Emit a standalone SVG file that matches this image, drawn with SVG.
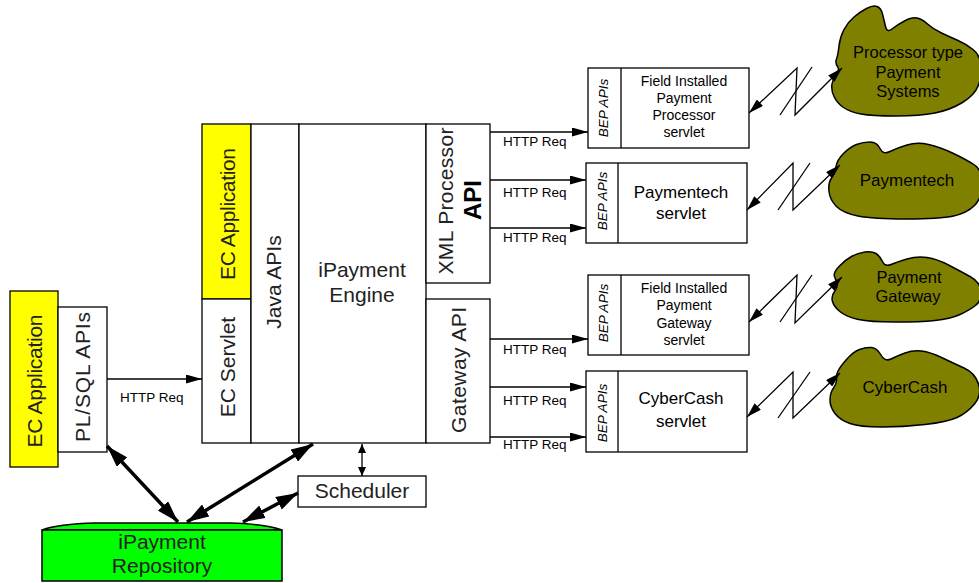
<svg xmlns="http://www.w3.org/2000/svg" width="979" height="583" viewBox="0 0 979 583">
<style>
text{font-family:"Liberation Sans",Arial,sans-serif;fill:#000}
.box{fill:#fff;stroke:#000;stroke-width:1.3}
.yel{fill:#ffff00;stroke:#000;stroke-width:1.3}
.big{font-size:21px;fill:#222}
.sm{font-size:13.5px}
.sv{font-size:14px;text-anchor:middle}
.sv2{font-size:17px;text-anchor:middle}
.bep{font-size:13.5px;font-style:italic;text-anchor:middle;dominant-baseline:central}
.rot{text-anchor:middle;dominant-baseline:central}
.cl{fill:#808000;stroke:#000;stroke-width:1.5}
.ct{font-size:16.5px;text-anchor:middle}
.ln{fill:none;stroke:#000;stroke-width:1.3}
.thick{fill:none;stroke:#000;stroke-width:3.5}
</style>
<defs>
<marker id="a" viewBox="0 0 16 9" refX="16" refY="4.5" markerWidth="16" markerHeight="9" markerUnits="userSpaceOnUse" orient="auto-start-reverse"><path d="M0,0 L16,4.5 L0,9 z"/></marker>
<marker id="z" viewBox="0 0 15 9" refX="15" refY="4.5" markerWidth="15" markerHeight="9" markerUnits="userSpaceOnUse" orient="auto-start-reverse"><path d="M0,0 L15,4.5 L0,9 z"/></marker>
<marker id="t" viewBox="0 0 22 14" refX="22" refY="7" markerWidth="22" markerHeight="14" markerUnits="userSpaceOnUse" orient="auto-start-reverse"><path d="M0,0 L22,7 L0,14 z"/></marker>
<marker id="s" viewBox="0 0 9 8" refX="9" refY="4" markerWidth="9" markerHeight="8" markerUnits="userSpaceOnUse" orient="auto-start-reverse"><path d="M0,0 L9,4 L0,8 z"/></marker>
</defs>

<g id="left-ec-app">
<rect class="yel" x="10" y="291" width="48" height="176"/>
<text class="big rot" transform="translate(34,381) rotate(-90)" textLength="133">EC Application</text>
</g>
<g id="plsql-apis">
<rect class="box" x="58" y="307" width="49" height="145"/>
<text class="big rot" transform="translate(82,377) rotate(-90)" textLength="130">PL/SQL APIs</text>
</g>

<g id="center-ec-app">
<rect class="yel" x="202" y="124" width="49" height="175"/>
<text class="big rot" transform="translate(227,214) rotate(-90)" textLength="132">EC Application</text>
</g>
<g id="ec-servlet">
<rect class="box" x="202" y="299" width="49" height="144"/>
<text class="big rot" transform="translate(227,367) rotate(-90)">EC Servlet</text>
</g>
<g id="java-apis">
<rect class="box" x="251" y="124" width="48" height="319"/>
<text class="big rot" transform="translate(273,282) rotate(-90)">Java APIs</text>
</g>
<g id="engine">
<rect class="box" x="299" y="124" width="127" height="319"/>
<text class="big" x="362" y="277" text-anchor="middle">iPayment</text>
<text class="big" x="362" y="302" text-anchor="middle">Engine</text>
</g>
<g id="xml-api">
<rect class="box" x="426" y="124" width="64" height="159"/>
<text class="big rot" transform="translate(445,201) rotate(-90)" textLength="147">XML Processor</text>
<text class="rot" transform="translate(472,200) rotate(-90)" style="font-size:24px;font-weight:bold">API</text>
</g>
<g id="gateway-api">
<rect class="box" x="426" y="299" width="64" height="144"/>
<text class="big rot" transform="translate(458,370) rotate(-90)" textLength="126">Gateway API</text>
</g>
<g id="scheduler">
<rect class="box" x="298" y="476" width="128" height="31"/>
<text class="big" x="362" y="498" text-anchor="middle">Scheduler</text>
</g>

<g id="repository">
<path d="M42,530 Q58,524 95,523 L230,523 Q266,524 282,530 Z" fill="#00ff00" stroke="#000" stroke-width="1.5"/>
<rect x="42" y="530" width="240" height="51" fill="#00ff00" stroke="#000" stroke-width="1.5"/>
<text class="big" x="162" y="549" text-anchor="middle">iPayment</text>
<text class="big" x="162" y="573" text-anchor="middle">Repository</text>
</g>

<g id="servlet-processor">
<rect class="box" x="588" y="68" width="161" height="80"/>
<line class="ln" x1="621" y1="68" x2="621" y2="148"/>
<text class="bep" transform="translate(603,108) rotate(-90)">BEP APIs</text>
<text class="sv" x="684" y="86">Field Installed</text>
<text class="sv" x="684" y="103">Payment</text>
<text class="sv" x="684" y="120">Processor</text>
<text class="sv" x="684" y="137">servlet</text>
</g>
<g id="servlet-paymentech">
<rect class="box" x="586" y="163" width="161" height="80"/>
<line class="ln" x1="618" y1="163" x2="618" y2="243"/>
<text class="bep" transform="translate(602,201) rotate(-90)">BEP APIs</text>
<text class="sv2" x="681" y="198">Paymentech</text>
<text class="sv2" x="681" y="219">servlet</text>
</g>
<g id="servlet-gateway">
<rect class="box" x="588" y="275" width="161" height="80"/>
<line class="ln" x1="621" y1="275" x2="621" y2="355"/>
<text class="bep" transform="translate(603,313) rotate(-90)">BEP APIs</text>
<text class="sv" x="684" y="293">Field Installed</text>
<text class="sv" x="684" y="310">Payment</text>
<text class="sv" x="684" y="328">Gateway</text>
<text class="sv" x="684" y="345">servlet</text>
</g>
<g id="servlet-cybercash">
<rect class="box" x="586" y="371" width="161" height="81"/>
<line class="ln" x1="618" y1="371" x2="618" y2="452"/>
<text class="bep" transform="translate(602,413) rotate(-90)">BEP APIs</text>
<text class="sv2" x="681" y="404">CyberCash</text>
<text class="sv2" x="681" y="427">servlet</text>
</g>

<g id="cloud-processor">
<path class="cl" d="M836.5,59 Q838,55 839,46 Q840,37 844,29.5 Q848,22 854,17 Q860,12 866.5,8.5 Q873,5 877,6.5 Q881,8 882.5,14 Q884,20 885.5,26.5 Q887,33 892,29 Q897,25 904.5,21 Q912,17 917,18 Q922,19 927.5,24 Q933,29 941.5,33 Q950,37 958,40.5 Q966,44 973,49.5 Q980,55 981,65 Q982,75 978.5,85 Q975,95 962.5,102.5 Q950,110 935,113 Q920,116 896,116 Q872,116 861,114 Q850,112 843.5,107.5 Q837,103 834,96.5 Q831,90 832,84 Q833,78 836.5,74 Q840,70 837.5,66.5 Q835,63 836.5,59 Z"/>
<text class="ct" x="908" y="58">Processor type</text>
<text class="ct" x="908" y="78">Payment</text>
<text class="ct" x="908" y="97">Systems</text>
</g>
<g id="cloud-paymentech">
<path class="cl" d="M836,166.5 Q837,160 843.5,153.5 Q850,147 856.5,144.5 Q863,142 870,142 Q877,142 880,148.5 Q883,155 890,151.5 Q897,148 907,145 Q917,142 928.5,144.5 Q940,147 953.5,153.5 Q967,160 974.5,165 Q982,170 982,184 Q982,198 974.5,205.5 Q967,213 953.5,216 Q940,219 906.5,219 Q873,219 858,216 Q843,213 836.5,206.5 Q830,200 829,191.5 Q828,183 831.5,178 Q835,173 836,166.5 Z"/>
<text class="ct" x="907" y="186" style="font-size:17px">Paymentech</text>
</g>
<g id="cloud-gateway">
<path class="cl" d="M834.5,276.5 Q833,273 839,266.5 Q845,260 851.5,256.5 Q858,253 865,252 Q872,251 876,253.5 Q880,256 882.5,261.5 Q885,267 891,264.5 Q897,262 907,259 Q917,256 927,257.5 Q937,259 948.5,265 Q960,271 970,276.5 Q980,282 981,291 Q982,300 976,305 Q970,310 960,314.5 Q950,319 935,320.5 Q920,322 895,322 Q870,322 858.5,319.5 Q847,317 840.5,312 Q834,307 832.5,301.5 Q831,296 834.5,291.5 Q838,287 837,283.5 Q836,280 834.5,276.5 Z"/>
<text class="ct" x="909" y="283">Payment</text>
<text class="ct" x="908" y="302">Gateway</text>
</g>
<g id="cloud-cybercash">
<path class="cl" d="M838,371 Q840,367 846.5,359.5 Q853,352 859.5,349.5 Q866,347 871.5,347.5 Q877,348 881,355 Q885,362 891,359 Q897,356 905,353 Q913,350 921.5,351 Q930,352 941.5,357.5 Q953,363 964,368 Q975,373 978.5,384 Q982,395 974.5,404 Q967,413 957,417.5 Q947,422 925,424.5 Q903,427 881.5,427 Q860,427 850,423.5 Q840,420 835,413.5 Q830,407 830,400 Q830,393 833.5,388 Q837,383 836.5,379 Q836,375 838,371 Z"/>
<text class="ct" x="905" y="393" style="font-size:17px">CyberCash</text>
</g>

<g id="connectors">
<line class="ln" x1="107" y1="379" x2="202" y2="379" marker-end="url(#a)"/>
<text class="sm" x="120" y="402">HTTP Req</text>

<line class="ln" x1="490" y1="132" x2="588" y2="132" marker-end="url(#a)"/>
<line class="ln" x1="490" y1="180" x2="586" y2="180" marker-end="url(#a)"/>
<line class="ln" x1="490" y1="228" x2="586" y2="228" marker-end="url(#a)"/>
<text class="sm" x="503" y="146">HTTP Req</text>
<text class="sm" x="503" y="197">HTTP Req</text>
<text class="sm" x="503" y="242">HTTP Req</text>

<line class="ln" x1="490" y1="339" x2="588" y2="339" marker-end="url(#a)"/>
<line class="ln" x1="490" y1="387" x2="586" y2="387" marker-end="url(#a)"/>
<line class="ln" x1="490" y1="437" x2="586" y2="437" marker-end="url(#a)"/>
<text class="sm" x="503" y="354">HTTP Req</text>
<text class="sm" x="503" y="405">HTTP Req</text>
<text class="sm" x="503" y="449">HTTP Req</text>

<polyline class="ln" points="749,113 797,68 795,115 842,68" marker-start="url(#z)" marker-end="url(#z)"/>
<line class="ln" x1="780" y1="115" x2="812" y2="67"/>
<polyline class="ln" points="747,210 793,163 793,210 840,165" marker-start="url(#z)" marker-end="url(#z)"/>
<line class="ln" x1="778" y1="210" x2="810" y2="163"/>
<polyline class="ln" points="749,322 797,275 795,323 842,277" marker-start="url(#z)" marker-end="url(#z)"/>
<line class="ln" x1="780" y1="322" x2="812" y2="275"/>
<polyline class="ln" points="747,417 793,372 793,418 840,373" marker-start="url(#z)" marker-end="url(#z)"/>
<line class="ln" x1="778" y1="418" x2="810" y2="372"/>

<line class="thick" x1="107" y1="446" x2="178" y2="522" marker-start="url(#t)" marker-end="url(#t)"/>
<line class="thick" x1="313" y1="444" x2="187" y2="522" marker-start="url(#t)" marker-end="url(#t)"/>
<line class="thick" x1="298" y1="493" x2="243" y2="522" marker-start="url(#t)" marker-end="url(#t)"/>
<line class="ln" x1="362" y1="444" x2="362" y2="476" marker-start="url(#s)" marker-end="url(#s)"/>
</g>
</svg>
